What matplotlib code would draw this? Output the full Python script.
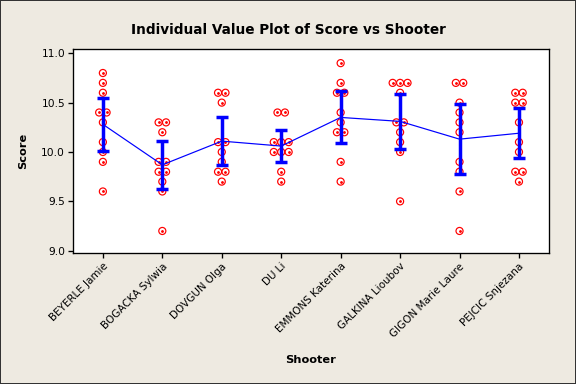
import matplotlib
matplotlib.use("Agg")
import matplotlib.pyplot as plt
import numpy as np
from matplotlib.patches import Rectangle

shooters = ["BEYERLE Jamie", "BOGACKA Sylwia", "DOVGUN Olga", "DU Li",
            "EMMONS Katerina", "GALKINA Lioubov", "GIGON Marie Laure",
            "PEJCIC Snjezana"]

beyerle = [10.8, 10.7, 10.6, 10.4, 10.4, 10.3, 10.1, 10.0, 9.9, 9.6]
bogacka = [10.3, 10.3, 10.2, 9.9, 9.9, 9.8, 9.8, 9.7, 9.6, 9.2]
dovgun = [10.6, 10.6, 10.5, 10.1, 10.1, 10.0, 9.9, 9.8, 9.8, 9.7]
du_li = [10.4, 10.4, 10.1, 10.1, 10.1, 10.0, 10.0, 10.0, 9.8, 9.7]
emmons = [10.9, 10.7, 10.6, 10.6, 10.4, 10.3, 10.2, 10.2, 9.9, 9.7]
galkina = [10.7, 10.7, 10.7, 10.6, 10.3, 10.3, 10.2, 10.1, 10.0, 9.5]
gigon = [10.7, 10.7, 10.5, 10.4, 10.3, 10.2, 9.9, 9.8, 9.6, 9.2]
pejcic = [10.6, 10.6, 10.5, 10.5, 10.3, 10.1, 10.0, 9.8, 9.8, 9.7]

scores = [beyerle, bogacka, dovgun, du_li, emmons, galkina, gigon, pejcic]
yticks = [9.0, 9.5, 10.0, 10.5, 11.0]

T_95 = 2.262  # t(0.975, df=9)

bg = "#EEEAE1"
fig = plt.figure(figsize=(6, 4), dpi=96, facecolor=bg)
ax = fig.add_axes([0.127, 0.3404, 0.8256, 0.5312])
ax.set_facecolor("white")

means, lows, highs = [], [], []
for i, vals in enumerate(scores):
    vals = np.array(vals)
    # spread tied values side by side
    xs = np.zeros(len(vals))
    for v in np.unique(vals):
        idx = np.where(vals == v)[0]
        k = len(idx)
        xs[idx] = (np.arange(k) - (k - 1) / 2) * 0.125
    xs = xs + i
    ax.scatter(xs, vals, s=28, facecolors="none", edgecolors="red",
               linewidths=0.9, zorder=3)
    ax.scatter(xs, vals, s=1.2, color="red", zorder=3)
    m = vals.mean()
    hw = T_95 * vals.std(ddof=1) / np.sqrt(len(vals))
    means.append(m)
    lows.append(m - hw)
    highs.append(m + hw)

x = np.arange(len(shooters))
means = np.array(means)
ax.plot(x, means, color="blue", lw=0.9, zorder=4)
ax.errorbar(x, means, yerr=[means - np.array(lows), np.array(highs) - means],
            fmt="none", ecolor="blue", elinewidth=2.6, capsize=4.5,
            capthick=2.6, zorder=5)

ax.set_xlim(-0.5, 7.5)
ax.set_ylim(8.974, 11.04)
ax.set_yticks(yticks)
ax.set_yticklabels(["%.1f" % t for t in yticks], fontsize=8)
ax.set_xticks(x)
ax.set_xticklabels(shooters, rotation=45, ha="right", rotation_mode="anchor",
                   fontsize=7.8)
ax.tick_params(direction="out", length=4, width=1, pad=2)
for s in ax.spines.values():
    s.set_linewidth(1)

ax.set_ylabel("Score", fontsize=8.5, fontweight="bold")
ax.yaxis.set_label_coords(-0.094, 0.5)
ax.set_xlabel("Shooter", fontsize=8.5, fontweight="bold")
ax.xaxis.set_label_coords(0.5, -0.50)

fig.text(0.5, 1 - 30 / 384, "Individual Value Plot of Score vs Shooter",
         ha="center", va="center", fontsize=10.2, fontweight="bold")

fig.patches.append(Rectangle((0, 0), 1, 1, transform=fig.transFigure,
                             fill=False, edgecolor="#333333", lw=1.5))

fig.savefig("out.png", dpi=96, facecolor=bg)
